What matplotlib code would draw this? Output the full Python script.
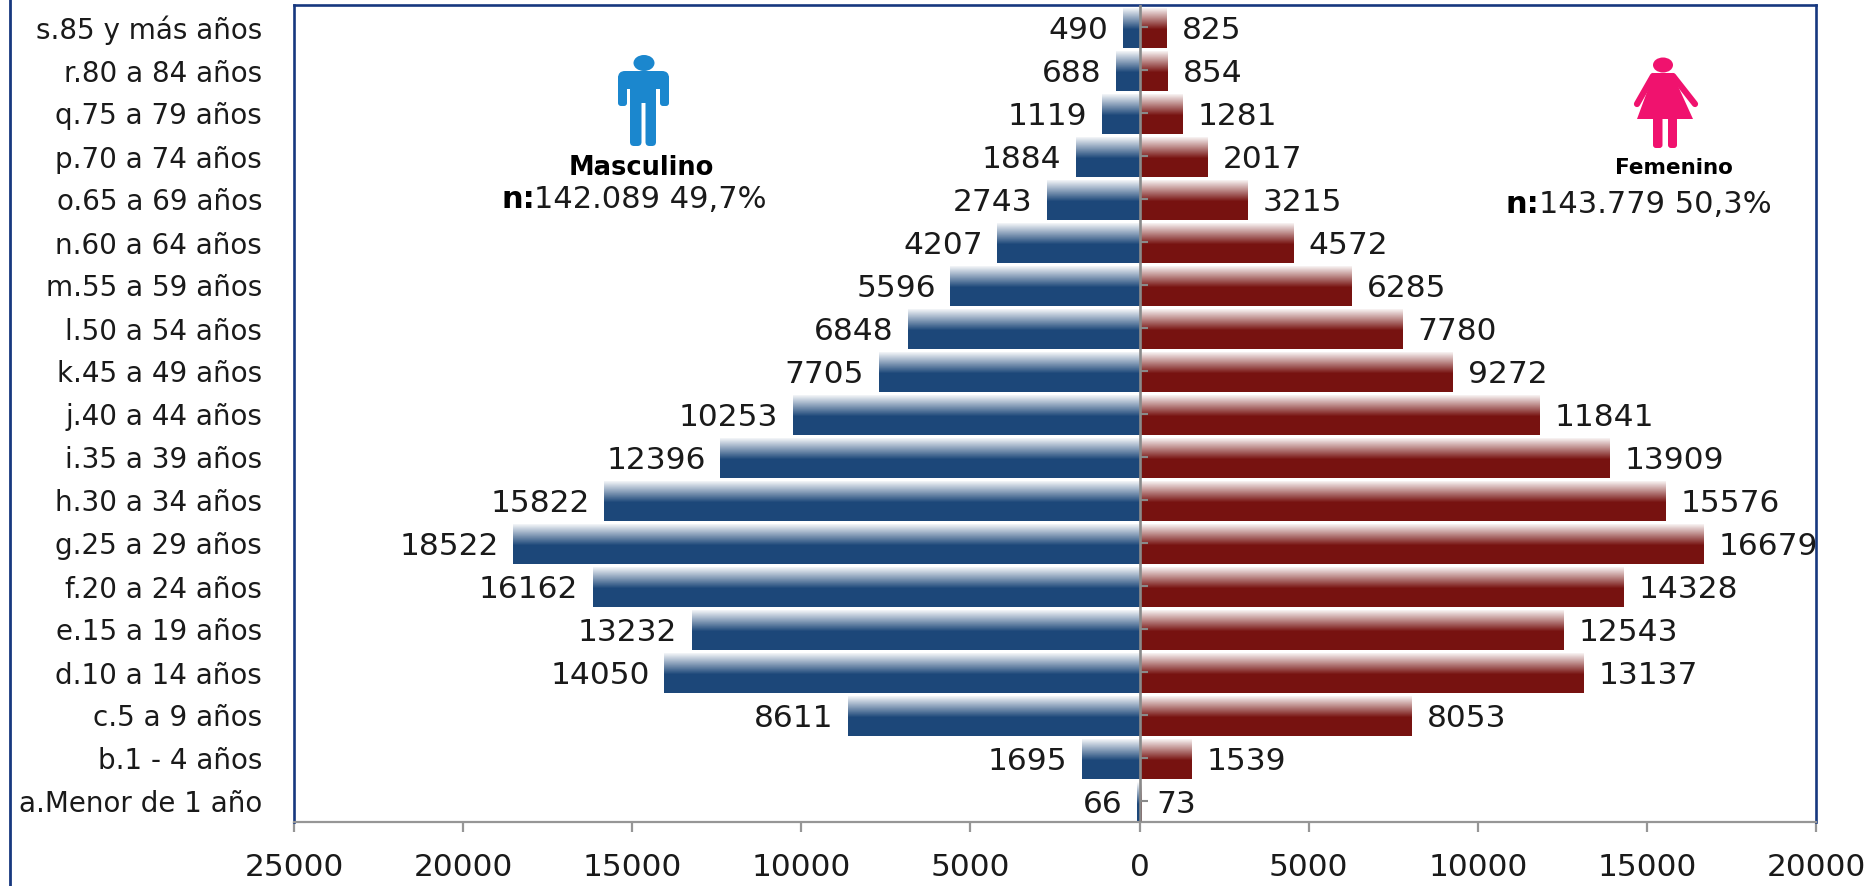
import numpy as np
import matplotlib
matplotlib.use("Agg")
import matplotlib.pyplot as plt
from matplotlib.markers import TICKRIGHT
from matplotlib.patches import Ellipse, Polygon, FancyBboxPatch
from matplotlib.lines import Line2D

categories = ["a.Menor de 1 año", "b.1 - 4 años", "c.5 a 9 años", "d.10 a 14 años", "e.15 a 19 años",
              "f.20 a 24 años", "g.25 a 29 años", "h.30 a 34 años", "i.35 a 39 años", "j.40 a 44 años",
              "k.45 a 49 años", "l.50 a 54 años", "m.55 a 59 años", "n.60 a 64 años", "o.65 a 69 años",
              "p.70 a 74 años", "q.75 a 79 años", "r.80 a 84 años", "s.85 y más años"]
masculino = [66, 1695, 8611, 14050, 13232, 16162, 18522, 15822, 12396, 10253,
             7705, 6848, 5596, 4207, 2743, 1884, 1119, 688, 490]
femenino = [73, 1539, 8053, 13137, 12543, 14328, 16679, 15576, 13909, 11841,
            9272, 7780, 6285, 4572, 3215, 2017, 1281, 854, 825]
x_ticks = [-25000, -20000, -15000, -10000, -5000, 0, 5000, 10000, 15000, 20000]

W, H = 1867, 887
NAVY = "#17387F"
GREY = "#969696"
BLUE = "#1C4779"
RED = "#771210"
TXT = "#1a1a1a"

plt.rcParams["font.family"] = ["DejaVu Sans"]
fig = plt.figure(figsize=(W / 100, H / 100), dpi=100, facecolor="white")
ax = fig.add_axes([294 / W, 1 - 823 / H, (1816 - 294) / W, (823 - 6) / H])

y = np.arange(len(categories))
bar_h = 0.94
off = -0.04
bars_m = ax.barh(y + off, -np.array(masculino), height=bar_h, color=BLUE, zorder=2)
bars_f = ax.barh(y + off, femenino, height=bar_h, color=RED, zorder=2)


def gradient():
    n = 100
    g = np.ones((n, 1, 4))
    g[:, 0, 3] = np.clip(1 - np.arange(n) / (n * 0.54), 0, 1)
    return g


for bars in (bars_m, bars_f):
    for b in bars:
        ax.imshow(gradient(), extent=(b.get_x(), b.get_x() + b.get_width(), b.get_y(), b.get_y() + b.get_height()),
                  aspect="auto", origin="upper", interpolation="bilinear", zorder=3)

ax.set_xlim(-25000, 20000)
ax.set_ylim(-0.5, len(categories) - 0.5)

# central axis with its ticks
ax.axvline(0, color="#8A8A8A", lw=1.9, zorder=4)
ax.plot(np.zeros_like(y), y, ls="none", marker=TICKRIGHT, ms=5.8, mew=1.5, color="#8A8A8A", zorder=4)

ax.set_yticks(y, categories)
ax.tick_params(axis="y", length=0, pad=23, labelsize=20, labelcolor=TXT)
for lab in ax.get_yticklabels():
    lab.set_y(lab.get_position()[1])
ax.set_xticks(x_ticks, [str(abs(v)) for v in x_ticks])
ax.tick_params(axis="x", length=7.5, width=1.6, color=GREY, pad=14, labelsize=22.5, labelcolor=TXT)

for s in ("top", "left", "right"):
    ax.spines[s].set_color(NAVY)
    ax.spines[s].set_linewidth(1.9)
ax.spines["bottom"].set_color(GREY)
ax.spines["bottom"].set_linewidth(1.6)

for yi, m, f in zip(y, masculino, femenino):
    ax.annotate(str(m), (-m, yi), xytext=(-10.5, -2), textcoords="offset points", ha="right", va="center",
                fontsize=22.5, color=TXT, zorder=5, annotation_clip=False)
    ax.annotate(str(f), (f, yi), xytext=(10.5, -2), textcoords="offset points", ha="left", va="center",
                fontsize=22.5, color=TXT, zorder=5, annotation_clip=False)

# overlay in pixel coordinates: outer line, pictograms, annotations
ov = fig.add_axes([0, 0, 1, 1], facecolor="none")
ov.set_xlim(0, W)
ov.set_ylim(H, 0)
ov.axis("off")
ov.add_line(Line2D([10, 10], [0, H], color=NAVY, lw=2.0))


def rbox(x0, y0, x1, y1, r, c):
    ov.add_patch(FancyBboxPatch((x0 + r, y0 + r), x1 - x0 - 2 * r, y1 - y0 - 2 * r,
                                boxstyle=f"round,pad={r}", fc=c, ec="none"))


MAN = "#1B87CE"
ov.add_patch(Ellipse((644, 64), 21, 16, fc=MAN, ec="none"))
rbox(618, 72, 669, 90, 7, MAN)
rbox(618, 76, 627, 107, 3, MAN)
rbox(660, 76, 669, 107, 3, MAN)
ov.add_patch(Polygon([(630, 75), (656, 75), (656, 104), (630, 104)], fc=MAN, ec="none"))
rbox(630, 95, 641.5, 147, 4, MAN)
rbox(645.5, 95, 656, 147, 4, MAN)

WOM = "#F0126E"
ov.add_patch(Ellipse((1663, 66), 20, 15, fc=WOM, ec="none"))
ov.add_patch(Polygon([(1654, 74), (1672, 74), (1693, 120), (1637, 120)], fc=WOM, ec="none"))
ov.add_line(Line2D([1653, 1637], [77, 105], color=WOM, lw=4.5, solid_capstyle="round"))
ov.add_line(Line2D([1673, 1695], [77, 105], color=WOM, lw=4.5, solid_capstyle="round"))
rbox(1653, 112, 1662.5, 149, 3, WOM)
rbox(1668, 112, 1677, 149, 3, WOM)

ov.text(641, 168, "Masculino", ha="center", va="center", fontsize=18.5, fontweight="bold", color="black")
ov.text(501, 200, "n:", ha="left", va="center", fontsize=22, fontweight="bold", color="black")
ov.text(534, 200, "142.089 49,7%", ha="left", va="center", fontsize=22, color=TXT)
ov.text(1674, 168, "Femenino", ha="center", va="center", fontsize=15.5, fontweight="bold", color="black")
ov.text(1506, 205, "n:", ha="left", va="center", fontsize=22, fontweight="bold", color="black")
ov.text(1539, 205, "143.779 50,3%", ha="left", va="center", fontsize=22, color=TXT)

fig.savefig("out.png", dpi=100, facecolor="white")
